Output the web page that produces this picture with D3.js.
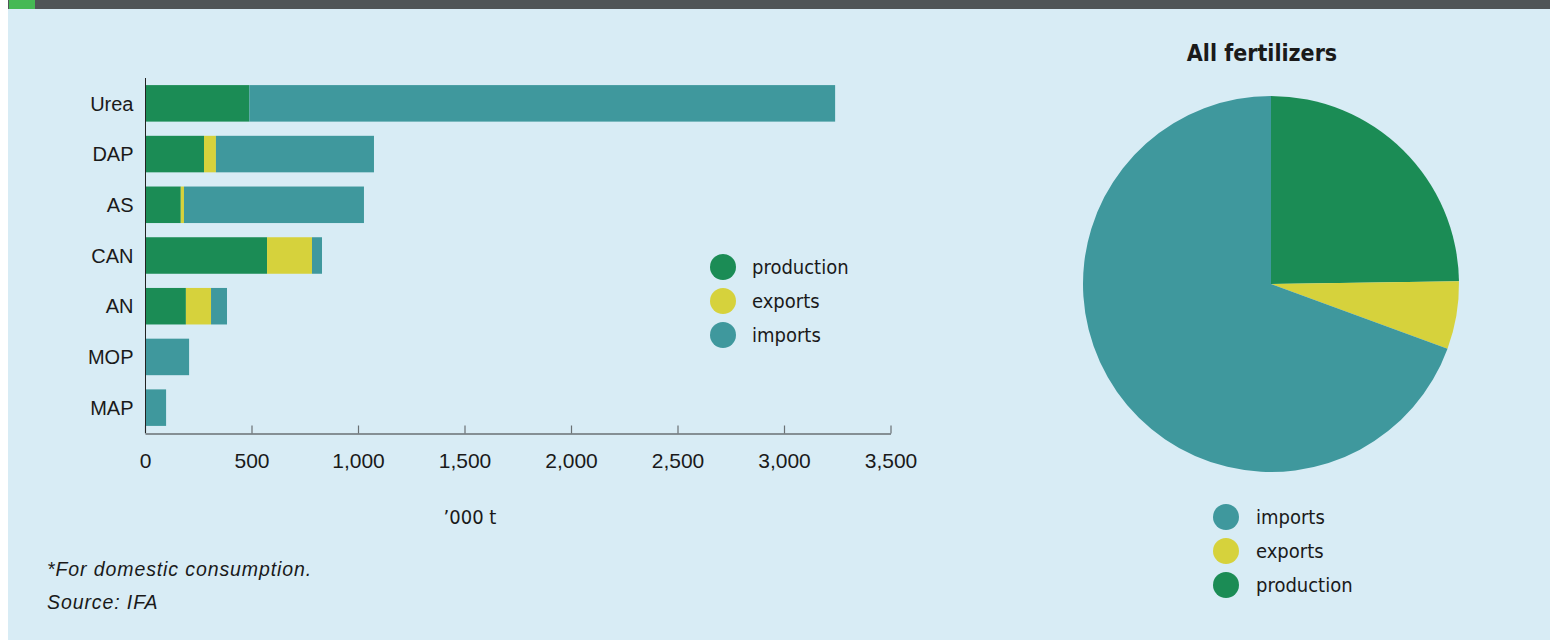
<!DOCTYPE html>
<html lang="en">
	<head>
		<meta charset="utf-8">
		<title>fertilizers</title>
		<script type="text/javascript" src="https://d3js.org/d3.v7.min.js"></script>
		<style type="text/css">
            body{
                margin:0;
                background:#ffffff;
                font-family:"DejaVu Sans Condensed","Liberation Sans",sans-serif;
            }
            text{ fill:#1a1a1a; }
            .foot{ font-family:"Liberation Sans",Arial,sans-serif; }
		</style>
	</head>
	<body>
        <div id="chart"></div>
		<script type="text/javascript">
            // values in '000 t
            var products = ["Urea","DAP","AS","CAN","AN","MOP","MAP"]
            var production = [490,277,168,573,192,0,0]
            var exports = [0,56,15,211,118,0,0]
            var imports = [2750,742,845,47,75,207,99]
            var xTicks = [0,500,1000,1500,2000,2500,3000,3500]
            var seriesNames = ["production","exports","imports"]
            var colors = {production:"#1b8c55",exports:"#d6d23c",imports:"#3f989d"}

            var width = 1550
            var height = 642
            var labelFont = "20px"

            var svg = d3.select("#chart").append("svg")
                .attr("width",width).attr("height",height)

            // panel + header strip
            svg.append("rect").attr("x",8).attr("y",9).attr("width",width-8).attr("height",631).attr("fill","#d8ecf5")
            svg.append("rect").attr("x",8).attr("y",0).attr("width",width-8).attr("height",9).attr("fill","#505557")
            svg.append("rect").attr("x",9).attr("y",0).attr("width",26).attr("height",9).attr("fill","#45b954")

            // ---- stacked bars ----
            var rows = products.map(function(p,i){
                return {name:p,production:production[i],exports:exports[i],imports:imports[i]}
            })
            var stack = d3.stack().keys(seriesNames)(rows)

            var x = d3.scaleLinear().domain([0,3500]).range([145,890.5])
            var y = d3.scaleBand().domain(products).range([78,433]).paddingInner(0.28).paddingOuter(0.14)

            svg.append("g").selectAll("g")
                .data(stack)
                .enter().append("g")
                .attr("fill",function(d){ return colors[d.key] })
                .selectAll("rect")
                .data(function(d){ return d })
                .enter().append("rect")
                .attr("x",function(d){ return x(d[0]) })
                .attr("width",function(d){ return x(d[1])-x(d[0]) })
                .attr("y",function(d){ return y(d.data.name) })
                .attr("height",y.bandwidth())

            var xAxis = svg.append("g")
                .attr("transform","translate(0,433.5)")
                .call(d3.axisBottom(x).tickValues(xTicks).tickSizeInner(-8).tickSizeOuter(0)
                    .tickPadding(13).tickFormat(d3.format(",")))
            xAxis.select(".domain").attr("stroke","#6a7073").attr("stroke-width",1.5)
            xAxis.selectAll(".tick line").attr("stroke","#6a7073").attr("stroke-width",1.2)
            xAxis.selectAll(".tick text").attr("font-size","21px").attr("fill","#1a1a1a")
                .attr("font-family",null).attr("dy","1.0em")

            var yAxis = svg.append("g")
                .attr("transform","translate(145.5,0)")
                .call(d3.axisLeft(y).tickSize(0).tickPadding(12))
            yAxis.select(".domain").attr("stroke","#222").attr("d","M0,78V433")
            yAxis.selectAll(".tick text").attr("font-size",labelFont).attr("fill","#1a1a1a")
                .attr("font-family",null).attr("dy","0.36em")

            svg.append("text").attr("x",470).attr("y",524).attr("text-anchor","middle")
                .attr("font-size",labelFont).text("\u2019000 t")

            // legend for bars
            var leg1 = svg.append("g").selectAll("g")
                .data(seriesNames).enter().append("g")
                .attr("transform",function(d,i){ return "translate(723,"+(267+i*34)+")" })
            leg1.append("circle").attr("r",13).attr("fill",function(d){ return colors[d] })
            leg1.append("text").attr("x",29).attr("dy","0.36em").attr("font-size",labelFont).text(function(d){ return d })

            // footnotes
            svg.append("text").attr("class","foot").attr("x",47).attr("y",576).attr("font-size","19.5px").attr("font-style","italic")
                .attr("letter-spacing","0.9px").text("*For domestic consumption.")
            svg.append("text").attr("class","foot").attr("x",47).attr("y",609).attr("font-size","19.5px").attr("font-style","italic")
                .attr("letter-spacing","0.9px").text("Source: IFA")

            // ---- pie: totals of the bar series ----
            var totals = seriesNames.map(function(k,i){
                return {key:k,value:d3.sum([production,exports,imports][i])}
            })
            var pie = d3.pie().sort(null).value(function(d){ return d.value })
            var arc = d3.arc().innerRadius(0).outerRadius(188)

            svg.append("text").attr("x",1262).attr("y",61).attr("text-anchor","middle")
                .attr("font-size","23px").attr("font-weight","bold").attr("fill","#000").text("All fertilizers")

            svg.append("g").attr("transform","translate(1271,284)")
                .selectAll("path").data(pie(totals)).enter().append("path")
                .attr("d",arc).attr("fill",function(d){ return colors[d.data.key] })

            var pieLegend = ["imports","exports","production"]
            var leg2 = svg.append("g").selectAll("g")
                .data(pieLegend).enter().append("g")
                .attr("transform",function(d,i){ return "translate(1226,"+(517+i*34)+")" })
            leg2.append("circle").attr("r",13).attr("fill",function(d){ return colors[d] })
            leg2.append("text").attr("x",30).attr("dy","0.36em").attr("font-size",labelFont).text(function(d){ return d })
		</script>
	</body>
</html>
